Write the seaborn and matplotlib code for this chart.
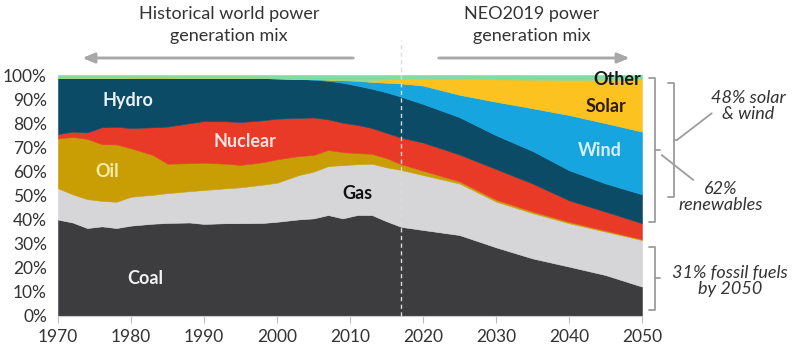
import numpy as np
import pandas as pd
import seaborn as sns
import matplotlib.pyplot as plt
from matplotlib.lines import Line2D

# Share of world power generation (%)
years = [1970, 1972, 1974, 1976, 1978, 1980, 1983, 1985, 1988, 1990, 1993, 1995, 1998, 2000,
         2003, 2005, 2007, 2009, 2011, 2013, 2015, 2017, 2020, 2025, 2030, 2035, 2040, 2045, 2050]
coal = [40.0, 38.8, 36.5, 37.2, 36.5, 37.5, 38.3, 38.6, 38.8, 38.2, 38.5, 38.5, 38.6, 39.1,
        40.1, 40.5, 41.9, 40.5, 41.9, 41.9, 39.3, 37.0, 35.7, 33.6, 28.5, 23.9, 20.5, 17.0, 12.2]
gas = [13.0, 11.7, 12.0, 10.6, 10.9, 12.0, 12.0, 12.4, 13.0, 14.1, 14.5, 14.9, 15.9, 16.2,
       18.4, 19.4, 20.3, 22.1, 21.1, 21.3, 22.4, 23.6, 22.8, 21.4, 19.0, 18.8, 18.0, 18.0, 19.3]
oil = [20.7, 23.8, 25.0, 23.5, 23.8, 20.1, 16.5, 12.2, 11.6, 11.3, 10.2, 9.3, 9.3, 9.7,
       7.9, 6.9, 6.7, 5.4, 4.6, 4.1, 3.8, 2.4, 1.8, 0.9, 0.8, 0.7, 0.6, 0.5, 0.4]
nuclear = [1.8, 2.2, 2.7, 7.0, 7.3, 8.4, 11.5, 15.4, 16.6, 17.3, 17.6, 17.8, 17.4, 16.9,
           15.8, 15.6, 12.7, 12.2, 11.7, 10.7, 10.5, 11.0, 11.7, 11.1, 12.7, 11.6, 8.9, 7.8, 6.6]
hydro = [23.2, 22.3, 22.6, 20.5, 20.3, 20.9, 20.6, 20.3, 18.8, 17.9, 18.0, 18.3, 17.5, 16.7,
         16.2, 15.6, 16.0, 16.6, 16.3, 16.3, 16.8, 17.0, 16.0, 15.5, 14.0, 13.5, 12.5, 11.7, 12.0]
wind = [0, 0, 0, 0, 0, 0, 0, 0, 0, 0, 0, 0, 0, 0,
        0, 0.3, 0.5, 1.0, 2.0, 2.8, 4.0, 5.5, 7.6, 9.3, 13.9, 17.7, 22.9, 25.0, 26.0]
solar = [0, 0, 0, 0, 0, 0, 0, 0, 0, 0, 0, 0, 0, 0,
         0, 0, 0, 0.1, 0.3, 0.8, 1.4, 1.9, 3.0, 6.8, 9.3, 11.9, 14.6, 18.0, 21.7]
other = [1.3, 1.2, 1.2, 1.2, 1.2, 1.1, 1.1, 1.1, 1.2, 1.2, 1.2, 1.2, 1.3, 1.4,
         1.6, 1.7, 1.9, 2.1, 2.1, 2.1, 1.8, 1.6, 1.4, 1.4, 1.8, 1.9, 2.0, 2.0, 1.8]

fuels = ['Coal', 'Gas', 'Oil', 'Nuclear', 'Hydro', 'Wind', 'Solar', 'Other']
colors = ['#3d3c3e', '#d6d6d8', '#c99d04', '#e93a28', '#0b4b66', '#17a5e0', '#fbc220', '#82dba3']

df = pd.DataFrame({'year': years, 'Coal': coal, 'Gas': gas, 'Oil': oil, 'Nuclear': nuclear,
                   'Hydro': hydro, 'Wind': wind, 'Solar': solar, 'Other': other})

sns.set_theme(style='white')
plt.rcParams['font.family'] = ['Lato', 'DejaVu Sans']
txt = '#333333'
grey = '#9c9c9c'

W, H = 800, 360
fig = plt.figure(figsize=(8, 3.6), dpi=100)
ax = fig.add_axes([58 / W, 44 / H, 584 / W, 241 / H])

ax.stackplot(df['year'], *[df[f] for f in fuels], colors=colors,
             edgecolor='face', linewidth=0.4)

ax.set_xlim(1970, 2050)
ax.set_ylim(0, 100)
ax.set_xticks(range(1970, 2051, 10))
ax.set_yticks(range(0, 101, 10))
ax.set_yticklabels([f'{v}%' for v in range(0, 101, 10)])
ax.tick_params(axis='y', length=0, pad=8, labelsize=12.5, labelcolor=txt)
ax.tick_params(axis='x', length=5, width=0.8, color='#bbbbbb', bottom=True, pad=4,
               labelsize=12.5, labelcolor=txt)
sns.despine(ax=ax, left=True, top=True, right=True)
ax.spines['bottom'].set_color('#cccccc')
ax.spines['bottom'].set_linewidth(0.8)

# 2017 divider between history and outlook
ax.axvline(2017, ymin=0, ymax=(316 - 40) / 241, color='#dcdcdc', lw=1,
           ls=(0, (3, 2.5)), clip_on=False, zorder=5)

# labels inside the areas
lab = dict(fontsize=13, fontweight='bold', ha='center', va='center')
ax.text(1979.6, 89.6, 'Hydro', color='#eaf4f8', **lab)
ax.text(1995.6, 72.2, 'Nuclear', color='#fbe3df', **lab)
ax.text(1976.7, 59.8, 'Oil', color='#f8ecaa', **lab)
ax.text(2011.0, 51.0, 'Gas', color='#111111', **lab)
ax.text(1981.9, 15.4, 'Coal', color='#f2f2f2', **lab)
ax.text(2044.2, 68.5, 'Wind', color='#d6f0fb', **lab)
ax.text(2045.1, 87.1, 'Solar', color='#2b1d0e', **lab)
ax.text(2046.6, 98.3, 'Other', color='#1a1a1a', **lab)


def px(x, y):
    return x / W, 1 - y / H


def fline(xs, ys):
    pts = [px(x, y) for x, y in zip(xs, ys)]
    fig.add_artist(Line2D([p[0] for p in pts], [p[1] for p in pts],
                          transform=fig.transFigure, color=grey, lw=1.3))


# header texts and arrows
fig.text(*px(229, 25), 'Historical world power\ngeneration mix', ha='center', va='center',
         fontsize=13, color=txt, linespacing=1.45)
fig.text(*px(532, 25), 'NEO2019 power\ngeneration mix', ha='center', va='center',
         fontsize=13, color=txt, linespacing=1.45)
arrow = dict(arrowstyle='-|>,head_length=0.6,head_width=0.25', color='#a8a8a8', lw=1.8)
fig.add_artist(plt.annotate('', xy=px(80, 58), xytext=px(356, 58), xycoords='figure fraction',
                            textcoords='figure fraction', arrowprops=arrow))
fig.add_artist(plt.annotate('', xy=px(632, 58), xytext=px(436, 58), xycoords='figure fraction',
                            textcoords='figure fraction', arrowprops=arrow))

# brackets on the right
fline([649, 655, 655, 649], [78, 78, 222, 222])
fline([655, 660], [150, 150])
fline([661.7, 693.3], [155, 180])
fline([668, 674, 674, 668], [83.3, 83.3, 196.7, 196.7])
fline([674, 677], [140, 140])
fline([677, 711.7], [140, 113.3])
fline([649, 655, 655, 649], [246.7, 246.7, 310, 310])
fline([655, 660], [278.3, 278.3])

note = dict(ha='center', va='center', fontsize=13, style='italic', color=txt, linespacing=1.05)
fig.text(*px(748, 106), '48% solar\n& wind', **note)
fig.text(*px(721, 197), '62%\nrenewables', **note)
fig.text(*px(730, 281), '31% fossil fuels\nby 2050', **note)

fig.savefig('out.png', dpi=100)
